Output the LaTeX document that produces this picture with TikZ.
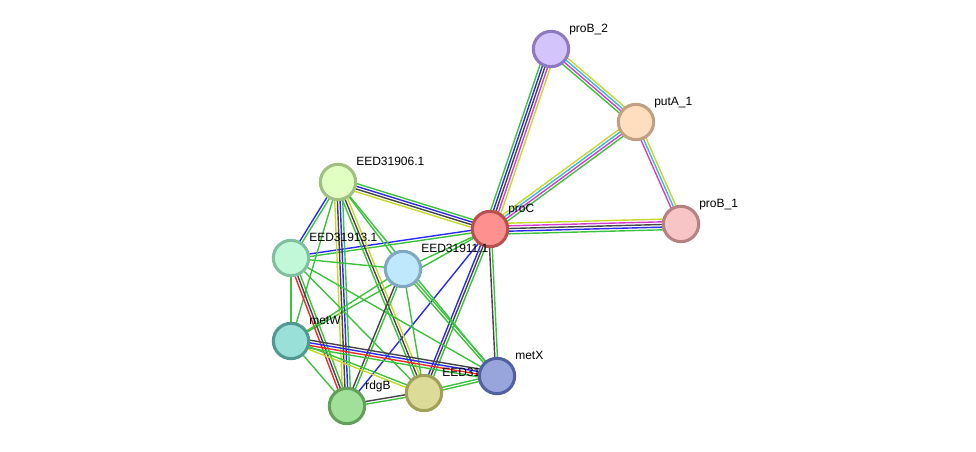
\documentclass[tikz,border=0pt]{standalone}
\usepackage{fontspec}
\setmainfont{Liberation Sans}
\usetikzlibrary{calc,backgrounds}

% link colours
\definecolor{sgreen}{HTML}{3CC23C}
\definecolor{sblue}{HTML}{2A2AF0}
\definecolor{sblack}{HTML}{454545}
\definecolor{smag}{HTML}{D43CD4}
\definecolor{scyan}{HTML}{36BCE0}
\definecolor{syel}{HTML}{C6D82A}
\definecolor{sred}{HTML}{F02A2A}

\tikzset{
  prot/.style={circle, draw, line width=2.3pt, minimum size=26.5pt, inner sep=0pt},
  lbl/.style={font=\fontsize{9}{10}\selectfont, inner sep=0pt, anchor=base west},
}

% parallel links: number, from, to, colours
\newcommand\lnk[4]{%
  \foreach \col [count=\i] in {#4} {
    \pgfmathsetmacro\off{(\i-(#1+1)/2)*2.0}
    \draw[\col, line width=1.05pt] ($(#2)!\off pt!90:(#3)$) -- ($(#3)!\off pt!-90:(#2)$);
  }}

\begin{document}
\begin{tikzpicture}[x=0.75pt, y=-0.75pt]
  \useasboundingbox (0,0) rectangle (976,452);

  \node[prot, fill={rgb,255:red,212;green,196;blue,252}, draw={rgb,255:red,142;green,122;blue,192}] (proB2) at (551,49) {};
  \node[lbl] (proB2-l) at ($(proB2)+(18,-16.5)$) {proB\_2};
  \node[prot, fill={rgb,255:red,255;green,222;blue,192}, draw={rgb,255:red,192;green,160;blue,128}] (putA1) at (636,122) {};
  \node[lbl] (putA1-l) at ($(putA1)+(18,-16.5)$) {putA\_1};
  \node[prot, fill={rgb,255:red,247;green,197;blue,197}, draw={rgb,255:red,185;green,128;blue,128}] (proB1) at (681,224) {};
  \node[lbl] (proB1-l) at ($(proB1)+(18,-16.5)$) {proB\_1};
  \node[prot, fill={rgb,255:red,255;green,144;blue,144}, draw={rgb,255:red,184;green,80;blue,80}] (proC) at (490,229) {};
  \node[lbl] (proC-l) at ($(proC)+(18,-16.5)$) {proC};
  \node[prot, fill={rgb,255:red,224;green,255;blue,192}, draw={rgb,255:red,160;green,192;blue,128}] (E06) at (338,182) {};
  \node[lbl] (E06-l) at ($(E06)+(18,-16.5)$) {EED31906.1};
  \node[prot, fill={rgb,255:red,192;green,248;blue,216}, draw={rgb,255:red,128;green,192;blue,160}] (E13) at (291,258) {};
  \node[lbl] (E13-l) at ($(E13)+(18,-16.5)$) {EED31913.1};
  \node[prot, fill={rgb,255:red,192;green,232;blue,252}, draw={rgb,255:red,128;green,168;blue,192}] (E11) at (403,269) {};
  \node[lbl] (E11-l) at ($(E11)+(18,-16.5)$) {EED31911.1};
  \node[prot, fill={rgb,255:red,152;green,224;blue,216}, draw={rgb,255:red,80;green,152;blue,144}] (metW) at (291,341) {};
  \node[lbl] (metW-l) at ($(metW)+(18,-16.5)$) {metW};
  \node[prot, fill={rgb,255:red,160;green,224;blue,152}, draw={rgb,255:red,96;green,160;blue,88}] (rdgB) at (347,406) {};
  \node[lbl] (rdgB-l) at ($(rdgB)+(18,-16.5)$) {rdgB};
  \node[prot, fill={rgb,255:red,220;green,220;blue,152}, draw={rgb,255:red,160;green,160;blue,88}] (E5) at (424,393) {};
  \node[lbl] (E5-l) at ($(E5)+(18,-16.5)$) {EED31};
  \node[prot, fill={rgb,255:red,152;green,164;blue,220}, draw={rgb,255:red,80;green,96;blue,160}] (metX) at (497,376) {};
  \node[lbl] (metX-l) at ($(metX)+(18,-16.5)$) {metX};

  \begin{scope}[on background layer]
    \lnk{5}{proC}{proB2}{syel,smag,sblack,sblue,sgreen}
    \lnk{4}{proB2}{putA1}{sgreen,smag,scyan,syel}
    \lnk{4}{putA1}{proC}{syel,scyan,smag,sgreen}
    \lnk{3}{putA1}{proB1}{smag,scyan,syel}
    \lnk{5}{proC}{proB1}{sgreen,sblue,sblack,smag,syel}
    \lnk{4}{proC}{E06}{sgreen,sblue,sblack,syel}
    \lnk{2}{proC}{E13}{sblue,sgreen}
    \lnk{1}{proC}{E11}{sgreen}
    \lnk{2}{proC}{metX}{sblack,sgreen}
    \lnk{3}{proC}{E5}{sblue,sblack,sgreen}
    \lnk{1}{proC}{rdgB}{sblue}
    \lnk{1}{proC}{metW}{sgreen}
    \lnk{2}{E06}{E13}{sblue,sgreen}
    \lnk{4}{E06}{rdgB}{syel,sblack,sblue,sgreen}
    \lnk{3}{E06}{E5}{sgreen,sblack,syel}
    \lnk{1}{E06}{metW}{sgreen}
    \lnk{1}{E06}{E11}{sgreen}
    \lnk{1}{E06}{metX}{sgreen}
    \lnk{1}{E13}{E11}{sgreen}
    \lnk{1}{E13}{metW}{sgreen}
    \lnk{3}{E13}{rdgB}{sred,sblack,sgreen}
    \lnk{1}{E13}{E5}{sgreen}
    \lnk{1}{E13}{metX}{sgreen}
    \lnk{1}{E11}{metW}{sgreen}
    \lnk{2}{E11}{rdgB}{sblack,sgreen}
    \lnk{1}{E11}{E5}{sgreen}
    \lnk{2}{E11}{metX}{sgreen,sgreen}
    \lnk{4}{metW}{metX}{sgreen,sred,sblue,sblack}
    \lnk{2}{metW}{E5}{syel,sgreen}
    \lnk{1}{metW}{rdgB}{sgreen}
    \lnk{2}{rdgB}{E5}{sgreen,sblack}
    \lnk{2}{E5}{metX}{sgreen,sgreen}
  \end{scope}
\end{tikzpicture}
\end{document}
